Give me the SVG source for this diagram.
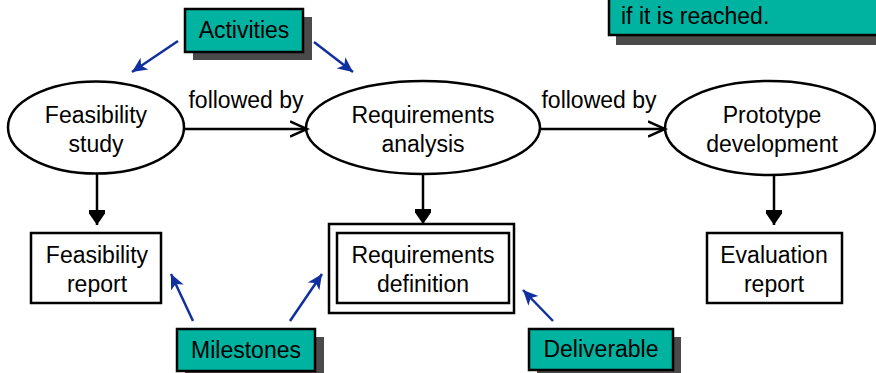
<svg xmlns="http://www.w3.org/2000/svg" width="876" height="373" viewBox="0 0 876 373">
<defs>
<style>
text{font-family:"Liberation Sans",Arial,sans-serif;font-size:23px;fill:#000;text-anchor:middle}
.shape{fill:#fff;stroke:#000;stroke-width:2.5}
.tag{fill:#00b3a0;stroke:#000;stroke-width:2.5}
.shadow{fill:#4a4a4a}
.blk{stroke:#000;stroke-width:2.5;fill:none}
.blue{stroke:#1030a0;stroke-width:2.5;fill:none}
</style>
<marker id="tri" markerWidth="22" markerHeight="16" refX="15" refY="8" orient="auto" markerUnits="userSpaceOnUse">
<path d="M0,-2.5 L15,8 L0,18.5 Z" fill="#000"/>
</marker>
<marker id="vee" markerWidth="20" markerHeight="20" refX="17" refY="10" orient="auto" markerUnits="userSpaceOnUse">
<path d="M0,2.5 L17,10 L0,17.5" fill="none" stroke="#000" stroke-width="2.5"/>
</marker>
<marker id="bl" markerWidth="18" markerHeight="16" refX="15" refY="8" orient="auto" markerUnits="userSpaceOnUse">
<path d="M0,1 L15,8 L0,15 L4,8 Z" fill="#1030a0"/>
</marker>
</defs>

<g id="note">
<rect class="shadow" x="616" y="0" width="270" height="45"/>
<rect class="tag" x="609" y="-10" width="275" height="45"/>
<text x="621" y="24" style="text-anchor:start">if it is reached.</text>
</g>

<g id="activities">
<rect class="shadow" x="193" y="17" width="119" height="43"/>
<rect class="tag" x="185" y="9" width="118" height="43"/>
<text x="244" y="38">Activities</text>
</g>

<g id="feasibility-study">
<ellipse class="shape" cx="96" cy="127.5" rx="88" ry="46"/>
<text x="96" y="123">Feasibility</text>
<text x="96" y="152">study</text>
</g>

<g id="requirements-analysis">
<ellipse class="shape" cx="423" cy="127.5" rx="117" ry="46.5"/>
<text x="423" y="123">Requirements</text>
<text x="423" y="152">analysis</text>
</g>

<g id="prototype-development">
<ellipse class="shape" cx="770" cy="128" rx="105" ry="47"/>
<text x="772" y="123">Prototype</text>
<text x="772" y="152">development</text>
</g>

<g id="feasibility-report">
<rect class="shape" x="31" y="233" width="130" height="70"/>
<text x="97" y="263">Feasibility</text>
<text x="97" y="292">report</text>
</g>

<g id="requirements-definition">
<rect class="shape" x="329" y="224" width="185" height="89"/>
<rect class="shape" x="337" y="233" width="172" height="70"/>
<text x="423" y="263">Requirements</text>
<text x="423" y="292">definition</text>
</g>

<g id="evaluation-report">
<rect class="shape" x="707" y="233" width="135" height="70"/>
<text x="774" y="263">Evaluation</text>
<text x="774" y="292">report</text>
</g>

<g id="milestones">
<rect class="shadow" x="185" y="337" width="139" height="43"/>
<rect class="tag" x="177" y="329" width="138" height="42"/>
<text x="246" y="358">Milestones</text>
</g>

<g id="deliverable">
<rect class="shadow" x="537" y="337" width="144" height="43"/>
<rect class="tag" x="529" y="329" width="144" height="41"/>
<text x="601" y="357">Deliverable</text>
</g>

<g id="connectors">
<line class="blk" x1="185" y1="129" x2="307" y2="129" marker-end="url(#vee)"/>
<text x="246" y="108">followed by</text>
<line class="blk" x1="540" y1="129" x2="665" y2="129" marker-end="url(#vee)"/>
<text x="599" y="108">followed by</text>
<line class="blk" x1="97" y1="174" x2="97" y2="225" marker-end="url(#tri)"/>
<line class="blk" x1="423" y1="174" x2="423" y2="224" marker-end="url(#tri)"/>
<line class="blk" x1="774" y1="175" x2="774" y2="225" marker-end="url(#tri)"/>
<line class="blue" x1="178" y1="41" x2="132" y2="72" marker-end="url(#bl)"/>
<line class="blue" x1="314" y1="42" x2="353" y2="72" marker-end="url(#bl)"/>
<line class="blue" x1="193" y1="321" x2="171" y2="274" marker-end="url(#bl)"/>
<line class="blue" x1="290" y1="321" x2="322" y2="274" marker-end="url(#bl)"/>
<line class="blue" x1="553" y1="321" x2="523" y2="290" marker-end="url(#bl)"/>
</g>
</svg>
